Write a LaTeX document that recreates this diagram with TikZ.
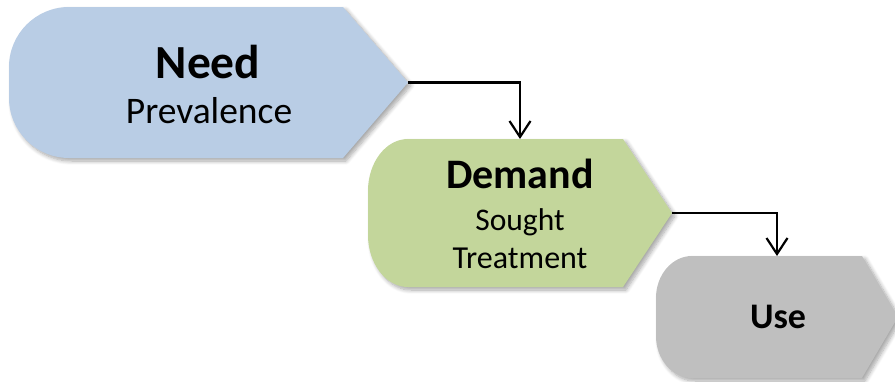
\documentclass[tikz,border=0pt]{standalone}
\usepackage{fontspec}
\setmainfont{Carlito}
\usetikzlibrary{calc,arrows.meta,shadows.blur}
\definecolor{needblue}{HTML}{B9CDE5}
\definecolor{demgreen}{HTML}{C3D69B}
\definecolor{usegray}{HTML}{BFBFBF}
\tikzset{
  frame/.style={draw=none,fill=none,inner sep=0pt,outer sep=0pt,rectangle},
  conn/.style={line width=2.2pt,-{Straight Barb[length=16pt,width=21pt,line width=2.2pt]}},
  softshadow/.style={blur shadow={shadow xshift=3pt,shadow yshift=-3pt,shadow blur steps=8,shadow blur radius=4pt,shadow opacity=35}},
  ttl/.style={anchor=base,inner sep=0pt,font=\bfseries},
  sub/.style={anchor=base,inner sep=0pt}
}
% #1 node name, #2 fill, #3 rx, #4 ry, #5 tip depth
\newcommand{\flowshape}[5]{%
  \path[fill=#2,softshadow] let \p1=(#1.north west), \p2=(#1.south east), \p3=(#1.east) in
    ({\x1+#3},\y1) -- ({\x2-#5},\y1) -- (\p3) -- ({\x2-#5},\y2) -- ({\x1+#3},\y2)
    .. controls ({\x1+0.448*#3},\y2) and (\x1,{\y2+0.448*#4}) .. (\x1,{\y2+#4})
    -- (\x1,{\y1-#4})
    .. controls (\x1,{\y1-0.448*#4}) and ({\x1+0.448*#3},\y1) .. ({\x1+#3},\y1) -- cycle;}
\begin{document}
\begin{tikzpicture}[x=1pt,y=-1pt]
\useasboundingbox (0,0) rectangle (895,381);
\node[frame,minimum width=399pt,minimum height=151pt] (need) at (208.5,82.5) {};
\node[frame,minimum width=304pt,minimum height=148pt] (demand) at (520,213) {};
\node[frame,minimum width=242pt,minimum height=122pt] (use) at (777,317) {};
\flowshape{need}{needblue}{60}{60}{65}
\flowshape{demand}{demgreen}{40}{52}{49}
\flowshape{use}{usegray}{36}{42}{36}
\node[ttl,font=\bfseries\fontsize{47.5}{47.5}\selectfont] (needT) at (208,78) {Need};
\node[sub,font=\fontsize{37.5}{37.5}\selectfont] (needS) at (209,123) {Prevalence};
\node[ttl,font=\bfseries\fontsize{42}{42}\selectfont] (demandT) at (520,188) {Demand};
\node[sub,font=\fontsize{31.5}{31.5}\selectfont] (demandS1) at (520,230) {Sought};
\node[sub,font=\fontsize{32}{32}\selectfont] (demandS2) at (520,268) {Treatment};
\node[ttl,font=\bfseries\fontsize{36}{36}\selectfont] (useT) at (778,328) {Use};
\draw[conn] (need.east) -| (demand.north);
\draw[conn] (demand.east) -| (use.north);
\end{tikzpicture}
\end{document}
